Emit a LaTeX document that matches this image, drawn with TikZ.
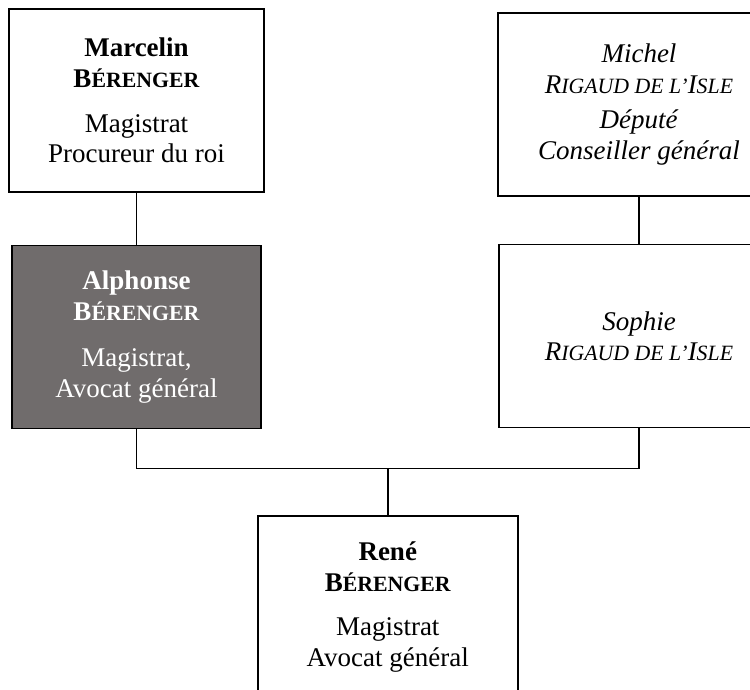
\documentclass[tikz,border=0pt]{standalone}
\usepackage{fontspec}
\setmainfont{Liberation Serif}
\usetikzlibrary{positioning,calc}

\definecolor{grisfonce}{RGB}{112,108,108}
\newcommand{\pcap}[1]{{\fontsize{10.9pt}{15pt}\selectfont #1}}

\begin{document}
\begin{tikzpicture}[
    x=0.5pt, y=-0.5pt,
    node distance=26pt and 0pt,
    personne/.style={rectangle, draw, line width=0.8pt, align=center, minimum height=91.5pt, inner sep=0pt, font=\fontsize{13.5pt}{15.3pt}\selectfont},
    fonce/.style={personne, fill=grisfonce, text=white},
    lien/.style={line width=0.8pt}
]
    \useasboundingbox (0,0) rectangle (750,690);
    \clip (0,0) rectangle (750,690);

    % Parents
    \node[personne, minimum width=127.5pt] (marcelin) at (136.5,100.5)
        {\textbf{Marcelin}\\ \textbf{B\pcap{ÉRENGER}}\\[7pt] Magistrat\\ Procureur du roi};
    \node[personne, minimum width=141pt] (michel) at (639,104.5)
        {\textit{Michel}\\ \textit{R\pcap{IGAUD DE L’}I\pcap{SLE}}\\[2.5pt] \textit{Député}\\ \textit{Conseiller général}};

    % Enfants
    \node[fonce, minimum width=124.5pt, below=26pt of marcelin] (alphonse)
        {\textbf{Alphonse}\\ \textbf{B\pcap{ÉRENGER}}\\[8pt] Magistrat,\\ Avocat général};
    \node[personne, minimum width=140pt, below=23.5pt of michel] (sophie)
        {\textit{Sophie}\\ \textit{R\pcap{IGAUD DE L’}I\pcap{SLE}}};

    % Petit-fils
    \coordinate (milieu) at ($(alphonse.south)!0.5!(sophie.south)$);
    \node[personne, minimum width=130pt, below=43pt of milieu] (rene)
        {\textbf{René}\\ \textbf{B\pcap{ÉRENGER}}\\[7pt] Magistrat\\ Avocat général};

    % Liens
    \draw[lien] (marcelin) -- (alphonse);
    \draw[lien] (michel) -- (sophie);
    \draw[lien] (alphonse.south) -- ++(0,39) coordinate (coude) -| (sophie.south);
    \draw[lien] (rene.north) -- (rene.north |- coude);
\end{tikzpicture}
\end{document}
